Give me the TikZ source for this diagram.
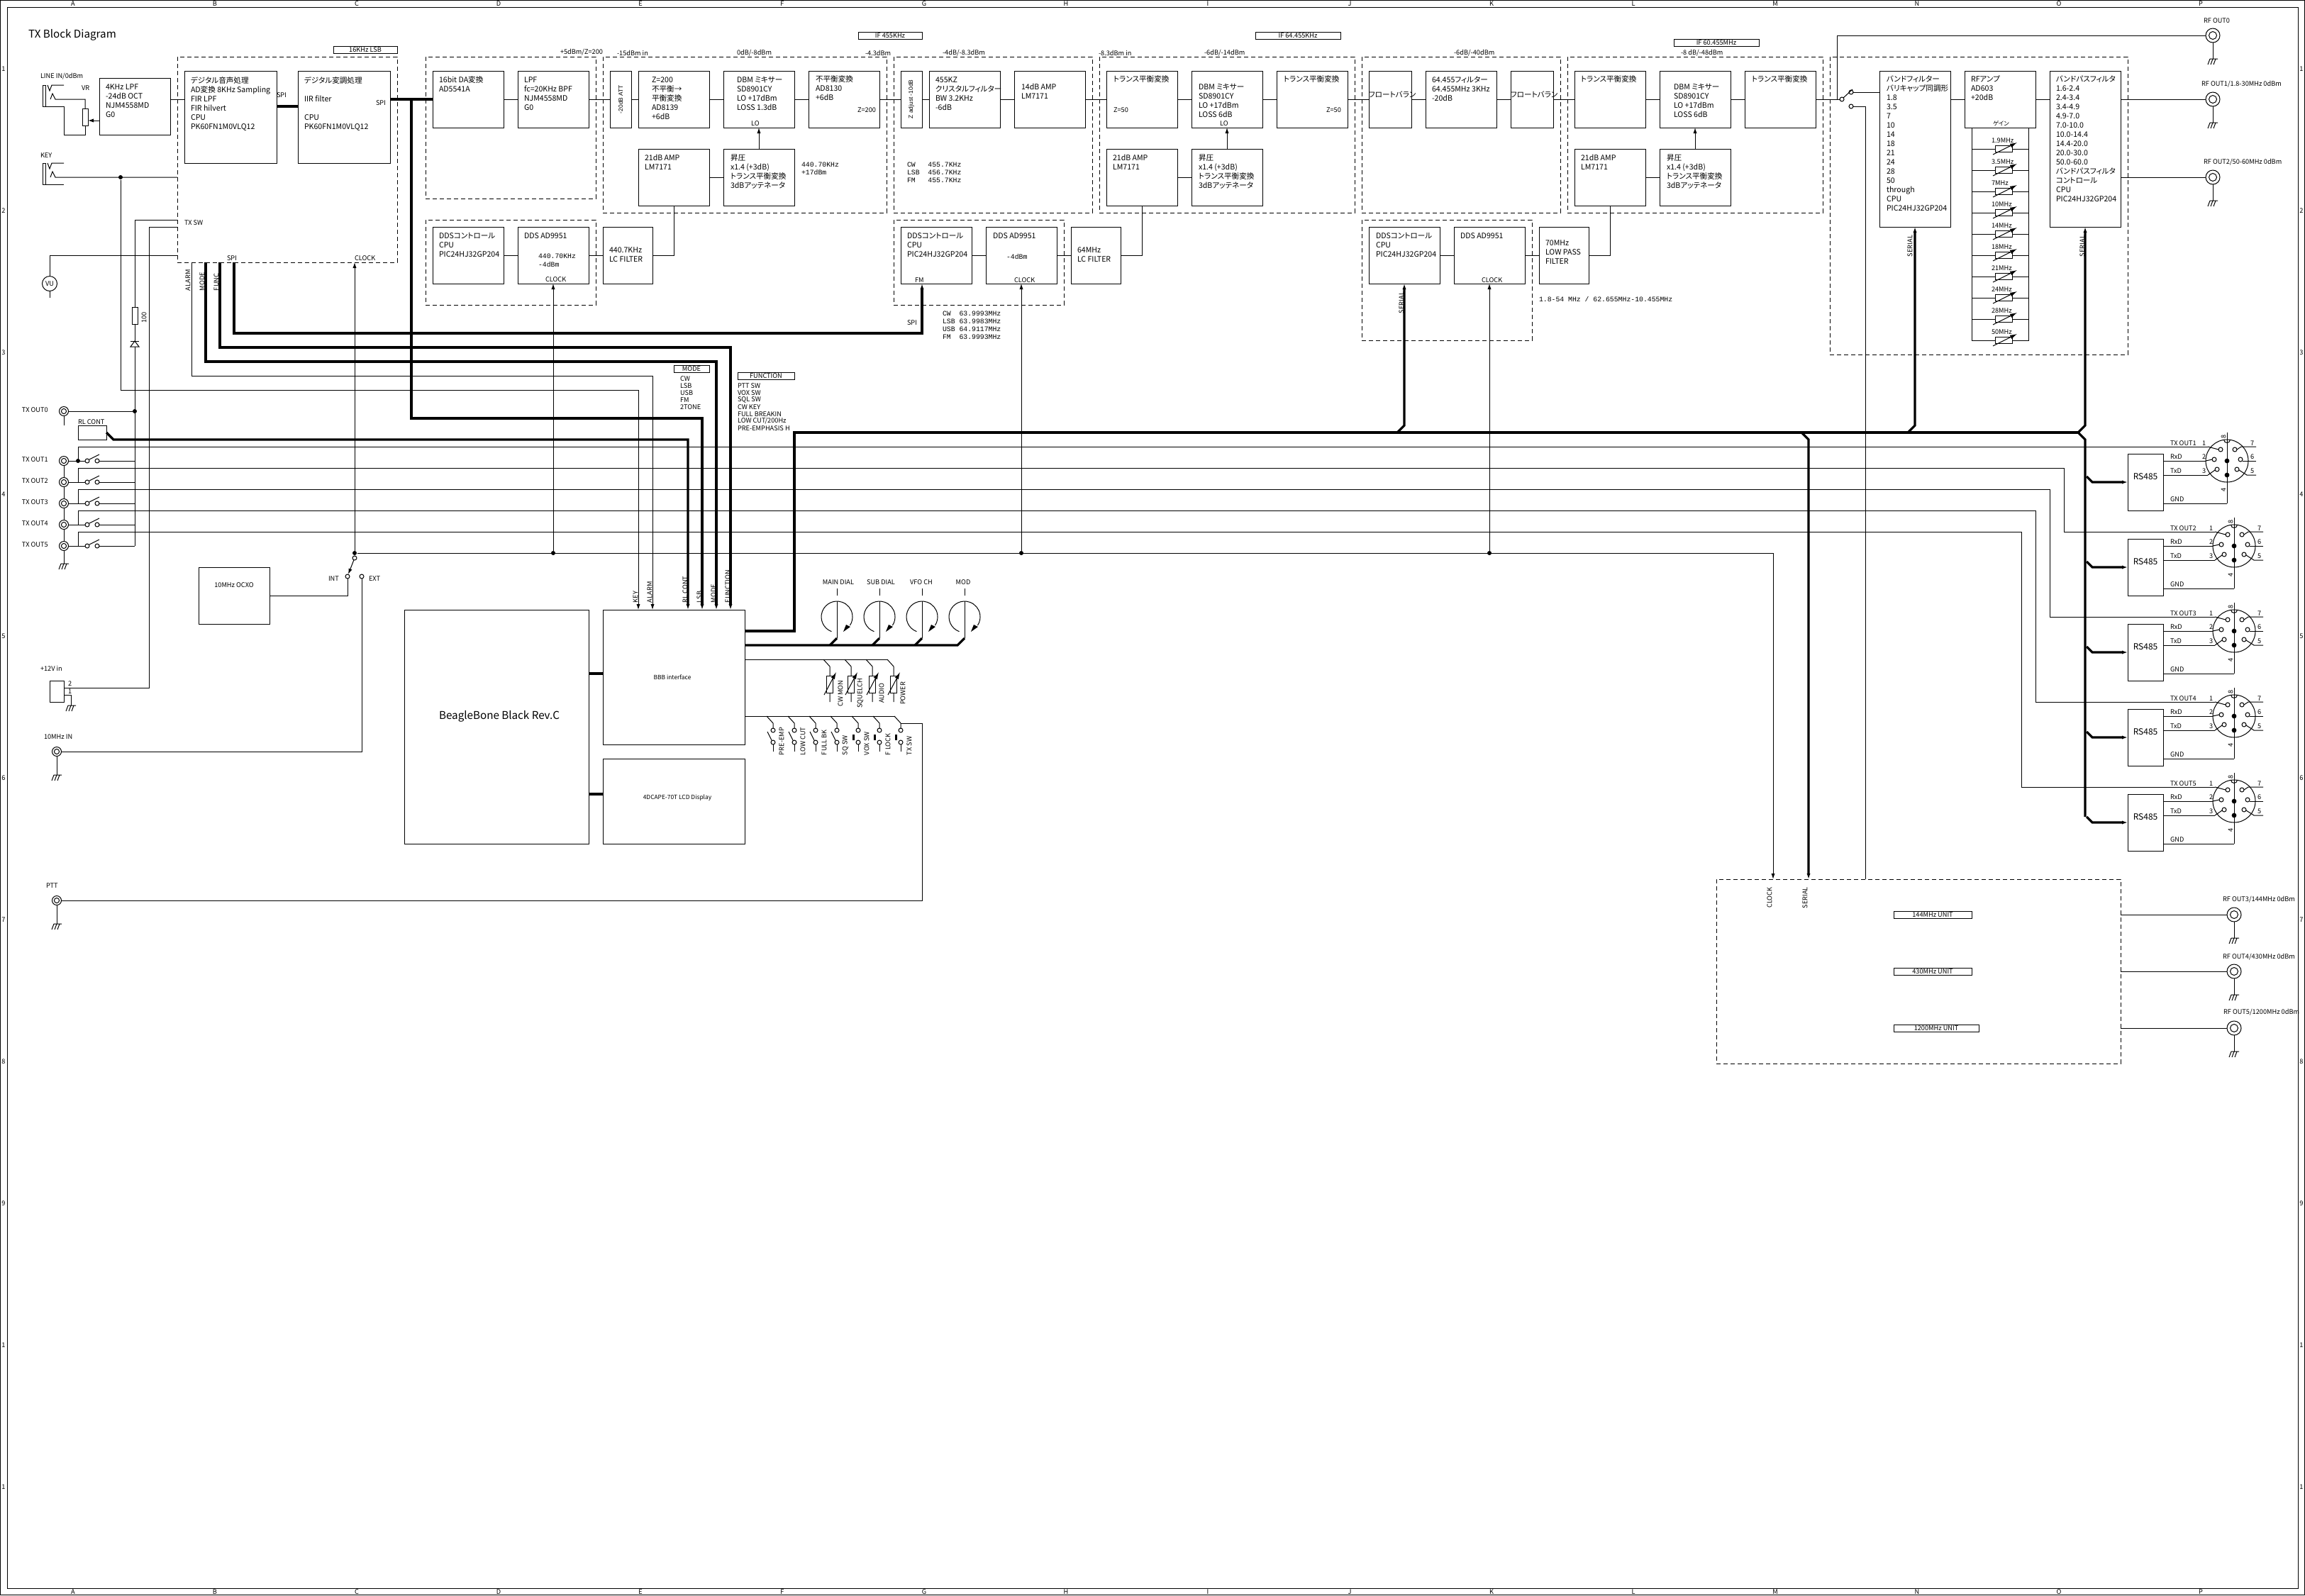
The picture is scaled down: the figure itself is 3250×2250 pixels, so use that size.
\documentclass[tikz,border=0pt]{standalone}
\usepackage{fontspec}
\setmainfont[RawFeature={+palt}]{Noto Sans CJK JP}
\newfontfamily\monof{Liberation Mono}
\newfontfamily\widef{Liberation Sans}
\usetikzlibrary{arrows.meta,calc}
\newcounter{lblc}
\newcommand{\fBody}{\fontsize{5.3}{6.5}\selectfont}
\newcommand{\fLab}{\fontsize{4.6}{5}\selectfont}
\newcommand{\fSm}{\fontsize{4.2}{5}\selectfont}
\newcommand{\fBig}{\fontsize{7.6}{9}\selectfont}
\newcommand{\fMono}{\fontsize{4.9}{5.5}\monof\selectfont}
\newcommand{\fWide}{\fontsize{4.2}{5}\widef\selectfont}
\newcommand{\Bx}[6][]{\node[bx,#1,minimum width={((#5)-(#3))*0.5pt},minimum height={((#6)-(#4))*0.5pt}] (#2) at ({((#3)+(#5))/2},{((#4)+(#6))/2}) {};}
\newcommand{\Tx}[4][]{\stepcounter{lblc}\node[lab,#1] (t\thelblc) at (#2,#3) {#4};}
\newcommand{\Mt}[3]{\stepcounter{lblc}\node[mt] (t\thelblc) at (#1,{#2-4}) {\rule{0pt}{4pt}#3};}
\newcommand{\Rt}[4][west]{\stepcounter{lblc}\node[lab,rotate=90,anchor=#1] (t\thelblc) at (#2,#3) {#4};}
\newcommand{\Coax}[4]{\node[circle,draw,inner sep=0,outer sep=0,minimum size={#4*1pt}] (#1) at (#2,#3) {};
 \node[circle,draw,inner sep=0,outer sep=0,minimum size={#4*0.55pt}] (#1i) at (#2,#3) {};}
\newcommand{\Din}[3]{% name cx cy
 \node[circle,draw,inner sep=0,outer sep=0,minimum size=30pt] (#1) at (#2,#3) {};
 \coordinate (#1a) at ({#2-27},{#3-20});
 \coordinate (#1b) at ({#2-30},#3);
 \coordinate (#1c) at ({#2-27},{#3+20});
 \coordinate (#1g) at (#2,{#3+60});
 \draw (#2,{#3-40}) -- (#1g);
 \fill (#2,#3) circle[radius=1.7pt] (#2,{#3+20}) circle[radius=1.7pt];
 \draw ({#2-4.5},{#3-30}) arc[start angle=180,end angle=360,radius=2.25pt];
 \foreach \dx/\dy in {-9/-16,11/-16,-18/-2,19/-2,-14/12,14/12}
   {\draw ({#2+\dx},{#3+\dy}) circle[radius=1.5pt];}
 \draw (#1a) -- ({#2-12},{#3-16});
 \draw (#1b) -- ({#2-21},{#3-2});
 \draw (#1c) -- ({#2-17},{#3+13});
 \draw ({#2+41},{#3-20}) -- ({#2+20},{#3-20}) -- ({#2+14},{#3-16});
 \draw ({#2+41},#3) -- ({#2+22},#3);
 \draw ({#2+41},{#3+20}) -- ({#2+28},{#3+20}) -- ({#2+17},{#3+13});
 \Tx{{#2-35}}{{#3-25}}{1}
 \Tx{{#2-35}}{{#3-6}}{2}
 \Tx{{#2-35}}{{#3+14}}{3}
 \Tx{{#2+33}}{{#3-25}}{7}
 \Tx{{#2+33}}{{#3-6}}{6}
 \Tx{{#2+33}}{{#3+14}}{5}
 \Rt[center]{{#2-5}}{{#3-34}}{8}
 \Rt[center]{{#2-5}}{{#3+41}}{4}
}
\tikzset{
 bx/.style={draw,rectangle,inner sep=0,outer sep=0},
 dbx/.style={bx,dash pattern=on 3pt off 2pt},
 lab/.style={font=\fLab,anchor=west,inner sep=0,outer sep=0},
 mt/.style={font=\fBody,align=left,anchor=north west,inner sep=0,outer sep=0},
 bus/.style={line width=1.6pt},
 arr/.style={-{Latex[length=4pt,width=2.6pt]}},
 dot/.style={circle,fill,inner sep=0,minimum size=3pt},
 pics/gnd/.style={code={\draw (-4,0)--(7,0) (-4,0)--(-7,8) (0,0)--(-3,8) (4,0)--(1,8);}},
}
\begin{document}
\begin{tikzpicture}[x=0.5pt,y=-0.5pt,line width=0.5pt]
\useasboundingbox (0,0) rectangle (3250,2250);
% frame
\node[bx,minimum width=1624.5pt,minimum height=1124.5pt] (outer) at (1625,1125) {};
\Bx{frame}{10}{10}{3240}{2240}
\foreach \l [count=\i from 0] in {A,B,C,D,E,F,G,H,I,J,K,L,M,N,O,P}{
 \stepcounter{lblc}\node[font=\fLab,inner sep=0] (t\thelblc) at ({103+200*\i},5) {\l};
 \stepcounter{lblc}\node[font=\fLab,inner sep=0] (t\thelblc) at ({103+200*\i},2245) {\l};}
\foreach \l [count=\i from 0] in {1,2,3,4,5,6,7,8,9,1,1}{
 \stepcounter{lblc}\node[font=\fLab,inner sep=0] (t\thelblc) at (5,{97+200*\i}) {\l};
 \stepcounter{lblc}\node[font=\fLab,inner sep=0] (t\thelblc) at (3245,{97+200*\i}) {\l};}
\Tx[font=\fBig]{40}{49}{TX Block Diagram}

% dashed groups
\Bx[dbx]{gA}{250}{80}{560}{370}
\Bx[dbx]{gB}{600}{80}{840}{280}
\Bx[dbx]{gC}{600}{310}{840}{430}
\Bx[dbx]{gD}{850}{80}{1250}{300}
\Bx[dbx]{gE}{1260}{80}{1540}{300}
\Bx[dbx]{gF}{1550}{80}{1910}{300}
\Bx[dbx]{gG}{1260}{310}{1500}{430}
\Bx[dbx]{gH}{1920}{80}{2200}{300}
\Bx[dbx]{gI}{2210}{80}{2570}{300}
\Bx[dbx]{gJ}{1920}{310}{2160}{480}
\Bx[dbx]{gK}{2580}{80}{3000}{500}
\Bx[dbx]{gL}{2420}{1240}{2990}{1500}

% heading labels
\node[bx,font=\fLab,minimum width=45pt,minimum height=5pt] (h1) at (515,70) {16KHz LSB};
\node[bx,font=\fLab,minimum width=45pt,minimum height=5pt] (h2) at (1255,50) {IF 455KHz};
\node[bx,font=\fLab,minimum width=60pt,minimum height=5pt] (h3) at (1830,50) {IF 64.455KHz};
\node[bx,font=\fLab,minimum width=60pt,minimum height=5pt] (h4) at (2420,60) {IF 60.455MHz};
\Tx{790}{74}{+5dBm/Z=200}
\Tx{870}{75}{-15dBm in}
\Tx{1039}{75}{0dB/-8dBm}
\Tx{1220}{75}{-4.3dBm}
\Tx{1329}{75}{-4dB/-8.3dBm}
\Tx{1549}{75}{-8.3dBm in}
\Tx{1698}{75}{-6dB/-14dBm}
\Tx{2050}{75}{-6dB/-40dBm}
\Tx{2370}{75}{-8 dB/-48dBm}

% line in / key jacks
\Tx{57}{108}{LINE IN/0dBm}
\Tx{115}{124}{VR}
\Tx{57}{219}{KEY}
\Bx{jk1}{60}{120}{64}{150}
\Bx{jk2}{60}{230}{64}{260}
\Bx{vr}{116}{153}{124}{177}
\draw (67,120) -- (70,128) -- (73,120) -- (90,120);
\draw (71,140) -- (74,132) -- (78,140) -- (120,140) -- (vr.north);
\draw (vr.south) -- (120,190) -- (90,190) -- (90,150) -- (jk1.south east);
\draw (67,230) -- (70,238) -- (73,230) -- (90,230);
\coordinate (keyin) at (250,250);
\draw (71,250) -- (74,242) -- (78,250) -- (keyin);
\draw (jk2.south east) -- (90,260);
\node[dot] (keyj) at (170,250) {};

% boxes
\Bx{lpfa}{140}{110}{240}{190}
\Mt{149}{122}{4KHz LPF\\-24dB OCT\\NJM4558MD\\G0}
\Bx{dsp}{260}{100}{390}{230}
\Mt{269}{112}{デジタル音声処理\\AD変換 8KHz Sampling\\FIR LPF\\FIR hilvert\\CPU\\PK60FN1M0VLQ12}
\Bx{mod}{420}{100}{550}{230}
\Mt{429}{112}{デジタル変調処理\\~\\IIR filter\\~\\CPU\\PK60FN1M0VLQ12}
\Tx{390}{134}{SPI}
\Tx{530}{145}{SPI}
\Tx{260}{314}{TX SW}
\Tx{320}{364}{SPI}
\Tx{500}{364}{CLOCK}
\Bx{da}{610}{100}{710}{180}
\Mt{619}{112}{16bit DA変換\\AD5541A}
\Bx{lpfb}{730}{100}{830}{180}
\Mt{739}{112}{LPF\\fc=20KHz BPF\\NJM4558MD\\G0}
\Bx{ctlA}{610}{320}{710}{400}
\Mt{619}{332}{DDSコントロール\\CPU\\PIC24HJ32GP204}
\Bx{ddsA}{730}{320}{830}{400}
\Mt{739}{332}{DDS AD9951}
\Tx[font=\fMono]{759}{361}{440.70KHz}
\Tx[font=\fMono]{759}{373}{-4dBm}
\Tx{769}{394}{CLOCK}
\Bx{lcA}{850}{320}{920}{400}
\Mt{859}{352}{440.7KHz\\LC FILTER}
\Bx{att}{860}{100}{890}{180}
\Rt[center]{875}{140}{\fWide -20dB ATT}
\Bx{bal}{900}{100}{1000}{180}
\Mt{919}{112}{Z=200\\不平衡→\\平衡変換\\AD8139\\+6dB}
\Bx{dbmA}{1020}{100}{1120}{180}
\Mt{1039}{112}{DBM ミキサー\\SD8901CY\\LO +17dBm\\LOSS 1.3dB}
\Tx{1059}{174}{LO}
\Bx{unb}{1140}{100}{1240}{180}
\Mt{1150}{111}{不平衡変換\\AD8130\\+6dB}
\Tx{1209}{155}{Z=200}
\Bx{ampA}{900}{210}{1000}{290}
\Mt{909}{222}{21dB AMP\\LM7171}
\Bx{upA}{1020}{210}{1120}{290}
\Mt{1030}{222}{昇圧\\x1.4 (+3dB)\\トランス平衡変換\\3dBアッテネータ}
\Tx[font=\fMono]{1130}{232}{440.70KHz}
\Tx[font=\fMono]{1130}{243}{+17dBm}
\Bx{zadj}{1270}{100}{1300}{180}
\Rt[center]{1285}{140}{\fWide Z adjust -10dB}
\Bx{xtal}{1310}{100}{1410}{180}
\Mt{1319}{112}{455KZ\\クリスタルフィルター\\BW 3.2KHz\\-6dB}
\Bx{ampB}{1430}{100}{1530}{180}
\Mt{1440}{122}{14dB AMP\\LM7171}
\Tx[font=\fMono]{1279}{232}{CW~~~455.7KHz}
\Tx[font=\fMono]{1279}{243}{LSB~~456.7KHz}
\Tx[font=\fMono]{1279}{254}{FM~~~455.7KHz}
\Bx{trA}{1560}{100}{1660}{180}
\Mt{1570}{111}{トランス平衡変換}
\Tx{1570}{155}{Z=50}
\Bx{dbmB}{1680}{100}{1780}{180}
\Mt{1690}{122}{DBM ミキサー\\SD8901CY\\LO +17dBm\\LOSS 6dB}
\Tx{1720}{174}{LO}
\Bx{trB}{1800}{100}{1900}{180}
\Mt{1810}{111}{トランス平衡変換}
\Tx{1870}{155}{Z=50}
\Bx{ampC}{1560}{210}{1660}{290}
\Mt{1569}{222}{21dB AMP\\LM7171}
\Bx{upB}{1680}{210}{1780}{290}
\Mt{1690}{222}{昇圧\\x1.4 (+3dB)\\トランス平衡変換\\3dBアッテネータ}
\Bx{ctlB}{1270}{320}{1370}{400}
\Mt{1279}{332}{DDSコントロール\\CPU\\PIC24HJ32GP204}
\Tx{1290}{395}{FM}
\Bx{ddsB}{1390}{320}{1490}{400}
\Mt{1400}{332}{DDS AD9951}
\Tx[font=\fMono]{1419}{362}{-4dBm}
\Tx{1430}{395}{CLOCK}
\Bx{lcB}{1510}{320}{1580}{400}
\Mt{1519}{352}{64MHz\\LC FILTER}
\Tx{1279}{455}{SPI}
\Tx[font=\fMono]{1329}{442}{CW~~63.9993MHz}
\Tx[font=\fMono]{1329}{453}{LSB~63.9983MHz}
\Tx[font=\fMono]{1329}{464}{USB~64.9117MHz}
\Tx[font=\fMono]{1329}{475}{FM~~63.9993MHz}
\Bx{floA}{1930}{100}{1990}{180}
\Mt{1930}{133}{フロートバラン}
\Bx{fil}{2010}{100}{2110}{180}
\Mt{2019}{112}{64.455フィルター\\64.455MHz 3KHz\\-20dB}
\Bx{floB}{2130}{100}{2190}{180}
\Mt{2130}{133}{フロートバラン}
\Bx{trC}{2220}{100}{2320}{180}
\Mt{2229}{111}{トランス平衡変換}
\Bx{dbmC}{2340}{100}{2440}{180}
\Mt{2360}{122}{DBM ミキサー\\SD8901CY\\LO +17dBm\\LOSS 6dB}
\Bx{trD}{2460}{100}{2560}{180}
\Mt{2470}{111}{トランス平衡変換}
\Bx{ampD}{2220}{210}{2320}{290}
\Mt{2229}{222}{21dB AMP\\LM7171}
\Bx{upC}{2340}{210}{2440}{290}
\Mt{2350}{222}{昇圧\\x1.4 (+3dB)\\トランス平衡変換\\3dBアッテネータ}
\Bx{ctlC}{1930}{320}{2030}{400}
\Mt{1940}{332}{DDSコントロール\\CPU\\PIC24HJ32GP204}
\Bx{ddsC}{2050}{320}{2150}{400}
\Mt{2059}{332}{DDS AD9951}
\Tx{2089}{395}{CLOCK}
\Bx{lcC}{2170}{320}{2240}{400}
\Mt{2179}{342}{70MHz\\LOW PASS\\FILTER}
\Tx[font=\fMono]{2170}{422}{1.8-54 MHz / 62.655MHz-10.455MHz}
\Bx{bf}{2650}{100}{2750}{320}
\Mt{2660}{111}{バンドフィルター\\バリキャップ同調形\\1.8\\3.5\\7\\10\\14\\18\\21\\24\\28\\50\\through\\CPU\\PIC24HJ32GP204}
\Bx{rf}{2770}{100}{2870}{180}
\Mt{2779}{111}{RFアンプ\\AD603\\+20dB}
\Tx[font=\fSm]{2810}{174}{ゲイン}
\Bx{bpf}{2890}{100}{2990}{320}
\Mt{2899}{111}{バンドパスフィルタ\\1.6-2.4\\2.4-3.4\\3.4-4.9\\4.9-7.0\\7.0-10.0\\10.0-14.4\\14.4-20.0\\20.0-30.0\\50.0-60.0\\バンドパスフィルタ\\コントロール\\CPU\\PIC24HJ32GP204}

% signal chain
\coordinate (lpfo) at (240,140); \coordinate (dspi) at (260,140);
\draw (lpfo) -- (dspi);
\draw (da.east) -- (lpfb.west);
\draw (lpfb.east) -- (att.west);
\draw (att.east) -- (bal.west);
\draw (bal.east) -- (dbmA.west);
\draw (dbmA.east) -- (unb.west);
\draw (unb.east) -- (zadj.west);
\draw (zadj.east) -- (xtal.west);
\draw (xtal.east) -- (ampB.west);
\draw (ampB.east) -- (trA.west);
\draw (trA.east) -- (dbmB.west);
\draw (dbmB.east) -- (trB.west);
\draw (trB.east) -- (floA.west);
\draw (floA.east) -- (fil.west);
\draw (fil.east) -- (floB.west);
\draw (floB.east) -- (trC.west);
\draw (trC.east) -- (dbmC.west);
\draw (dbmC.east) -- (trD.west);
\draw (ampA.east) -- (upA.west);
\draw (ampC.east) -- (upB.west);
\draw (ampD.east) -- (upC.west);
\draw[arr] (upA.north) -- (dbmA.south);
\draw[arr] (upB.north) -- (dbmB.south);
\draw[arr] (upC.north) -- (dbmC.south);
\draw (ctlA.east) -- (ddsA.west);
\draw (ddsA.east) -- (lcA.west);
\draw (lcA.east) -| (ampA.south);
\draw (ctlB.east) -- (ddsB.west);
\draw (ddsB.east) -- (lcB.west);
\draw (lcB.east) -| (ampC.south);
\draw (ctlC.east) -- (ddsC.west);
\draw (ddsC.east) -- (lcC.west);
\draw (lcC.east) -| (ampD.south);
\coordinate (wipe) at (140,170); \coordinate (vre) at (124,170);
\draw[arr] (wipe) -- (vre);

% SPI thick
\coordinate (dspo) at (390,150); \coordinate (modi) at (420,150);
\draw[bus] (dspo) -- (modi);
\coordinate (modo) at (550,140); \coordinate (dai) at (610,140);
\draw[bus] (modo) -- (dai);
\coordinate (lsbin) at (990,860);
\draw[bus,arr] (580,140) -- (580,590) -- (990,590) -- (lsbin);
\coordinate (spis) at (330,370); \coordinate (fmin) at (1300,400);
\draw[bus,arr] (spis) -- (330,470) -- (1300,470) -- (fmin);
\coordinate (funcs) at (310,370); \coordinate (funcin) at (1030,860);
\draw[bus,arr] (funcs) -- (310,490) -- (1030,490) -- (funcin);
\coordinate (modes) at (290,370); \coordinate (modein) at (1010,860);
\draw[bus,arr] (modes) -- (290,510) -- (1010,510) -- (modein);
\coordinate (alarms) at (270,370); \coordinate (alarmin) at (920,860);
\draw[arr] (alarms) -- (270,530) -- (920,530) -- (alarmin);
\coordinate (keyin2) at (900,860);
\draw[arr] (keyj) -- (170,550) -- (900,550) -- (keyin2);
\Rt{265}{410}{ALARM}
\Rt{285}{410}{MODE}
\Rt{305}{410}{FUNC}
\Rt{896}{850}{KEY}
\Rt{916}{850}{ALARM}
\Rt{966}{850}{RL CONT}
\Rt{986}{850}{LSB}
\Rt{1006}{850}{MODE}
\Rt{1026}{850}{FUNCTION}

% VU & tx sw
\coordinate (vuin) at (250,360);
\node[circle,draw,inner sep=0,outer sep=0,minimum size=10.5pt,font=\fLab] (vu) at (70,400) {VU};
\draw (vuin) -| (vu.north);
\coordinate (vuend) at (70,420);
\draw (vu.south) -- (vuend);
\coordinate (txsw) at (250,310);
\coordinate (pwr) at (250,320);
\draw (txsw) -- (190,310) -- (190,770);
\Bx[fill=white]{rr}{186}{433}{194}{457}
\Rt[center]{203}{448}{100}
\draw (184,481) -- (196,481);
\draw[fill=white] (190,481) -- (184,489) -- (196,489) -- cycle;

% TX OUT left
\Tx{31}{578}{TX OUT0}
\Tx{31}{648}{TX OUT1}
\Tx{31}{678}{TX OUT2}
\Tx{31}{708}{TX OUT3}
\Tx{31}{738}{TX OUT4}
\Tx{31}{768}{TX OUT5}
\Coax{tx0}{90}{580}{6.5}
\Coax{tx1}{90}{650}{6.5}
\Coax{tx2}{90}{680}{6.5}
\Coax{tx3}{90}{710}{6.5}
\Coax{tx4}{90}{740}{6.5}
\Coax{tx5}{90}{770}{6.5}
\node[dot] (tx0j) at (190,580) {};
\draw (tx0.east) -- (tx0j);
\coordinate (tx0e) at (90,600);
\draw (tx0.south) -- (tx0e);
\draw (tx1.south) -- (tx2.north);
\draw (tx2.south) -- (tx3.north);
\draw (tx3.south) -- (tx4.north);
\draw (tx4.south) -- (tx5.north);
\coordinate (g5) at (90,795);
\draw (tx5.south) -- (g5);
\pic at (g5) {gnd};
\foreach \n/\y in {1/650,2/680,3/710,4/740,5/770}{
 \draw (tx\n.east) -- (120,\y);
 \draw (123,\y) circle[radius=1.5pt] (137,\y) circle[radius=1.5pt];
 \draw (126,\y-2) -- (140,\y-9);
 \draw (140,\y) -- (190,\y);
 \draw (110,\y) -- (110,\y-20);
}
\node[dot] (tx1j) at (110,650) {};
% TX OUT long lines
\Din{dA}{3140}{650}
\Din{dB}{3150}{770}
\Din{dC}{3150}{890}
\Din{dD}{3150}{1010}
\Din{dE}{3150}{1130}
\draw (110,630) -- (dAa);
\draw (110,660) -- (2910,660) |- (dBa);
\draw (110,690) -- (2890,690) |- (dCa);
\draw (110,720) -- (2870,720) |- (dDa);
\draw (110,750) -- (2850,750) |- (dEa);
\Bx{rlc}{110}{600}{150}{620}
\Tx{110}{595}{RL CONT}
\coordinate (rlcin) at (970,860);
\draw[bus,arr] (150,610) -- (160,620) -- (970,620) -- (rlcin);

% RS485
\foreach \n/\t/\d/\cy in {A/1/dA/650,B/2/dB/770,C/3/dC/890,D/4/dD/1010,E/5/dE/1130}{
 \Bx{rs\n}{3000}{\cy-10}{3050}{\cy+70}
 \stepcounter{lblc}\node[font=\fontsize{6}{7}\selectfont,inner sep=0] (t\thelblc) at (3025,\cy+22) {RS485};
 \draw (3050,\cy) -- (\d b);
 \draw (3050,\cy+20) -- (\d c);
 \draw (3050,\cy+60) -- (\d g);
 \Tx{3060}{\cy-25}{TX OUT\t}
 \Tx{3060}{\cy-6}{RxD}
 \Tx{3060}{\cy+14}{TxD}
 \Tx{3060}{\cy+54}{GND}
 \draw[bus,arr] (2942,\cy+22) -- (2950,\cy+30) -- (rs\n.west);
}

% serial bus
\Bx{bbb}{570}{860}{830}{1190}
\node[font=\fBig,inner sep=0] (bbbt) at (704,1010) {BeagleBone Black Rev.C};
\Bx{bif}{850}{860}{1050}{1050}
\node[font=\fSm,inner sep=0] (bift) at (948,955) {BBB interface};
\Bx{lcd}{850}{1070}{1050}{1190}
\node[font=\fSm,inner sep=0] (lcdt) at (955,1125) {4DCAPE-70T LCD Display};
\coordinate (b1) at (830,950); \coordinate (b2) at (850,950);
\coordinate (b3) at (830,1120); \coordinate (b4) at (850,1120);
\draw[bus] (b1) -- (b2); \draw[bus] (b3) -- (b4);
\coordinate (serout) at (1050,890);
\draw[bus] (serout) -- (1120,890) -- (1120,610) -- (2930,610);
\draw[bus,arr] (1970,610) -- (1980,600) -- (ctlC.south);
\draw[bus,arr] (2690,610) -- (2700,600) -- (bf.south);
\draw[bus,arr] (2930,610) -- (2940,600) -- (bpf.south);
\draw[bus] (2930,610) -- (2940,620) -- (2940,1152);
\coordinate (uSer) at (2550,1240);
\draw[bus,arr] (2540,610) -- (2550,620) -- (uSer);
\Rt[center]{1976}{427}{SERIAL}
\Rt[center]{2693}{347}{SERIAL}
\Rt[center]{2936}{347}{SERIAL}

% clock net
\node[dot] (clk) at (500,780) {};
\coordinate (clkin) at (500,370);
\draw[arr] (clk) -- (clkin);
\node[dot] (clkA) at (780,780) {};
\node[dot] (clkB) at (1440,780) {};
\node[dot] (clkC) at (2100,780) {};
\coordinate (uClk) at (2500,1240);
\draw[arr] (clk) -- (2500,780) -- (uClk);
\draw[arr] (clkA) -- (ddsA.south);
\draw[arr] (clkB) -- (ddsB.south);
\draw[arr] (clkC) -- (ddsC.south);
\Bx{ocxo}{280}{800}{380}{880}
\node[font=\fLab,inner sep=0] (ocxot) at (330,825) {10MHz OCXO};
\node[circle,draw,inner sep=0,outer sep=0,minimum size=3pt] (swc) at (500,787) {};
\node[circle,draw,inner sep=0,outer sep=0,minimum size=3pt] (swi) at (490,813) {};
\node[circle,draw,inner sep=0,outer sep=0,minimum size=3pt] (swe) at (510,813) {};
\draw (clk) -- (swc);
\draw[arr] (swc) -- (491,810);
\draw (ocxo.east) -| (swi.south);
\Tx{463}{816}{INT}
\Tx{520}{816}{EXT}
\Coax{tenm}{80}{1060}{6.5}
\Tx{62}{1039}{10MHz IN}
\draw (tenm.east) -| (swe.south);
\coordinate (g10) at (80,1093);
\draw (tenm.south) -- (g10);
\pic at (g10) {gnd};

% +12V
\Tx{57}{943}{+12V in}
\Bx{dc}{70}{960}{90}{990}
\Tx{96}{964}{2}
\Tx{96}{975}{1}
\draw (pwr) -- (210,320) -- (210,970) -- (90,970);
\coordinate (g12) at (100,995);
\draw (90,980) -- (100,980) -- (g12);
\pic at (g12) {gnd};

% PTT
\Tx{65}{1249}{PTT}
\Coax{ptt}{80}{1270}{6.5}
\coordinate (gp) at (80,1303);
\draw (ptt.south) -- (gp);
\pic at (gp) {gnd};
\draw (ptt.east) -- (1300,1270) -- (1300,1020) -- (1270,1020);

% mode / function
\node[bx,font=\fLab,minimum width=25pt,minimum height=5pt] (mbx) at (975,520) {MODE};
\node[bx,font=\fLab,minimum width=40pt,minimum height=5pt] (fbx) at (1080,530) {FUNCTION};
\foreach \t [count=\i from 0] in {CW,LSB,USB,FM,2TONE}{\Tx{959}{534+10*\i}{\t}}
\foreach \t [count=\i from 0] in {PTT SW,VOX SW,SQL SW,CW KEY,FULL BREAKIN,LOW CUT/200Hz,PRE-EMPHASIS H}{\Tx{1040}{544+10*\i}{\t}}

% dials
\coordinate (dialo) at (1050,910);
\draw[bus] (dialo) -- (1350,910) -- (1360,900);
\foreach \x/\t/\lx in {1180/MAIN DIAL/1182,1240/SUB DIAL/1242,1300/VFO CH/1299,1360/MOD/1358}{
 \stepcounter{lblc}\node[font=\fLab,inner sep=0] (t\thelblc) at (\lx,821) {\t};
 \draw (\x,830) -- (\x,840) (\x,848) -- (\x,900);
 \draw (\x-7.5,890.7) arc[start angle=250,end angle=-33,radius=11pt];
 \fill (\x+9,891) -- (\x+13,881) -- (\x+19,884) -- cycle;
}
\foreach \x in {1180,1240,1300}{\draw[bus] (\x-10,910) -- (\x,900);}

% pots
\coordinate (poto) at (1050,930);
\draw (poto) -- (1251,930);
\foreach \x/\t/\lx in {1170/CW MON/1185,1200/SQUELCH/1213,1230/AUDIO/1243,1260/POWER/1273}{
 \draw (\x-9,930) -- (\x,940) -- (\x,990);
 \Bx[fill=white]{p\x}{\x-4.5}{953}{\x+4.5}{977}
 \draw[-{Latex[length=5pt,width=3pt]}] (\x-8,980) -- (\x+9,948);
 \stepcounter{lblc}\node[font=\fLab,inner sep=0,rotate=90] (t\thelblc) at (\lx,978) {\t};
}

% switches
\coordinate (swo) at (1050,1010);
\draw (swo) -- (1261,1010);
\foreach \x/\t in {1090/PRE-EMP,1120/LOW CUT,1150/FULL BK,1180/SQ SW,1210/VOX SW,1240/F LOCK,1270/TX SW}{
 \draw (\x-9,1010) -- (\x,1020) -- (\x,1027);
 \draw (\x,1030) circle[radius=1.5pt] (\x,1047) circle[radius=1.5pt];
 \draw (\x,1050) -- (\x,1060);
 \Rt{\x+12}{1065}{\t}
}
\foreach \x in {1090,1120,1150,1180}{\draw (\x-8,1032) -- (\x-2,1044);}
\foreach \x in {1210,1240,1270}{\fill (\x-8,1036) rectangle (\x-5,1044);}

% ladder
\draw (2780,180) -- (2780,480) -- (2860,480) -- (2860,180);
\foreach \y/\t in {210/1.9MHz,240/3.5MHz,270/7MHz,300/10MHz,330/14MHz,360/18MHz,390/21MHz,420/24MHz,450/28MHz,480/50MHz}{
 \draw (2780,\y) -- (2860,\y);
 \Bx[fill=white]{r\y}{2813}{\y-4.5}{2837}{\y+4.5}
 \draw[-{Latex[length=5pt,width=3pt]}] (2810,\y+8) -- (2844,\y-9);
 \Tx{2808}{\y-12}{\t}
}

% band switch and RF outs
\node[circle,draw,inner sep=0,outer sep=0,minimum size=3pt] (bsw) at (2597,140) {};
\node[circle,draw,inner sep=0,outer sep=0,minimum size=3pt] (bsa) at (2610,130) {};
\node[circle,draw,inner sep=0,outer sep=0,minimum size=3pt] (bsb) at (2610,150) {};
\draw (trD.east) -- (bsw.west);
\draw (2599,138) -- (2612,126);
\coordinate (bfi) at (2650,130);
\draw (bsa.east) -- (bfi);
\coordinate (uIn) at (2630,1240);
\draw (bsb.east) -| (uIn);
\Coax{rf0}{3120}{50}{10}
\Coax{rf1}{3120}{140}{10}
\Coax{rf2}{3120}{250}{10}
\draw (2590,140) -- (2590,50) -- (rf0.west);
\coordinate (bpfa) at (2990,140); \coordinate (bpfb) at (2990,250);
\draw (bpfa) -- (rf1.west);
\draw (bpfb) -- (rf2.west);
\coordinate (bfo) at (2750,140); \coordinate (rfi) at (2770,140);
\coordinate (rfo) at (2870,140); \coordinate (bpfi) at (2890,140);
\draw (bfo) -- (rfi); \draw (rfo) -- (bpfi);
\foreach \n/\y in {rf0/50,rf1/140,rf2/250}{
 \draw (\n.south) -- (3120,\y+33);
 \pic at (3120,\y+33) {gnd};
}
\Tx{3107}{29}{RF OUT0}
\Tx{3104}{119}{RF OUT1/1.8-30MHz 0dBm}
\Tx{3107}{229}{RF OUT2/50-60MHz 0dBm}

% VHF unit
\node[bx,font=\fLab,minimum width=55pt,minimum height=5pt] (u1) at (2725,1290) {144MHz UNIT};
\node[bx,font=\fLab,minimum width=55pt,minimum height=5pt] (u2) at (2725,1370) {430MHz UNIT};
\node[bx,font=\fLab,minimum width=60pt,minimum height=5pt] (u3) at (2730,1450) {1200MHz UNIT};
\Rt[center]{2495}{1266}{CLOCK}
\Rt[center]{2545}{1266}{SERIAL}
\Coax{rf3}{3150}{1290}{10}
\Coax{rf4}{3150}{1370}{10}
\Coax{rf5}{3150}{1450}{10}
\foreach \n/\y in {rf3/1290,rf4/1370,rf5/1450}{
 \coordinate (\n o) at (2990,\y);
 \draw (\n o) -- (\n.west);
 \draw (\n.south) -- (3150,\y+33);
 \pic at (3150,\y+33) {gnd};
}
\Tx{3134}{1269}{RF OUT3/144MHz 0dBm}
\Tx{3134}{1350}{RF OUT4/430MHz 0dBm}
\Tx{3135}{1428}{RF OUT5/1200MHz 0dBm}
\end{tikzpicture}
\end{document}
